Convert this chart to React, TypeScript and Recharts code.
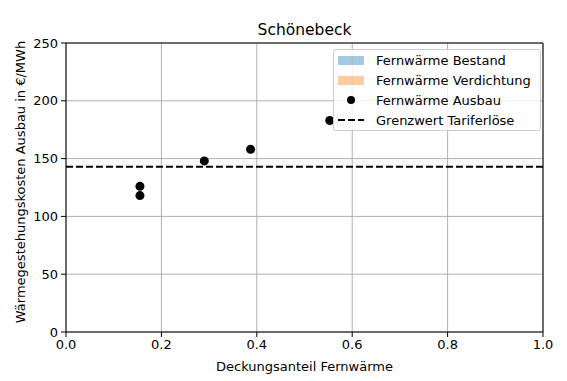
import React from "react";
import {
  ScatterChart,
  Scatter,
  XAxis,
  YAxis,
  CartesianGrid,
  ReferenceLine,
  Label,
} from "recharts";

const deckungsanteil = [0.155, 0.155, 0.29, 0.387, 0.553];
const kostenAusbau = [126, 118, 148, 158, 183];
const grenzwertTariferloese = 143;
const xTicks = [0, 0.2, 0.4, 0.6, 0.8, 1.0];
const yTicks = [0, 50, 100, 150, 200, 250];
const legendLabels = [
  "Fernwärme Bestand",
  "Fernwärme Verdichtung",
  "Fernwärme Ausbau",
  "Grenzwert Tariferlöse",
];

const FONT = "'DejaVu Sans', sans-serif";

const points = deckungsanteil.map((x, i) => ({ x, y: kostenAusbau[i] }));

function LegendBox() {
  const row = { display: "flex", alignItems: "center", height: 20 } as const;
  const handle = { width: 26, marginRight: 12, display: "flex", justifyContent: "center" } as const;
  return (
    <div
      style={{
        position: "absolute",
        left: 333,
        top: 49,
        width: 202,
        height: 80,
        background: "rgba(255,255,255,0.8)",
        border: "1px solid #cccccc",
        borderRadius: 3,
        fontFamily: FONT,
        fontSize: 13,
        color: "#000",
        padding: "0 0 0 4px",
        boxSizing: "content-box",
      }}
    >
      <div style={row}>
        <div style={handle}>
          <div style={{ width: 26, height: 9, background: "rgba(31,119,180,0.4)" }} />
        </div>
        {legendLabels[0]}
      </div>
      <div style={row}>
        <div style={handle}>
          <div style={{ width: 26, height: 9, background: "rgba(255,127,14,0.4)" }} />
        </div>
        {legendLabels[1]}
      </div>
      <div style={row}>
        <div style={handle}>
          <div style={{ width: 8, height: 8, borderRadius: 4, background: "#000" }} />
        </div>
        {legendLabels[2]}
      </div>
      <div style={row}>
        <div style={handle}>
          <svg width={26} height={4}>
            <line x1={0} y1={2} x2={26} y2={2} stroke="#000" strokeWidth={2} strokeDasharray="7 3" />
          </svg>
        </div>
        {legendLabels[3]}
      </div>
    </div>
  );
}

export default function App() {
  return (
    <div style={{ position: "absolute", left: 0, top: 0, width: 567, height: 381, background: "#fff" }}>
      <ScatterChart
        width={567}
        height={381}
        margin={{ top: 43, right: 24, bottom: 9, left: 6 }}
        style={{ fontFamily: FONT }}
      >
        <CartesianGrid stroke="#b0b0b0" strokeWidth={1} />
        <XAxis
          type="number"
          dataKey="x"
          domain={[0, 1]}
          ticks={xTicks}
          tickFormatter={(v: number) => v.toFixed(1)}
          height={40}
          tickSize={5}
          tickMargin={3}
          stroke="#000"
          tick={{ fill: "#000", fontSize: 13 }}
          allowDataOverflow
        >
          <Label
            value="Deckungsanteil Fernwärme"
            position="insideBottom"
            offset={1}
            style={{ fill: "#000", fontSize: 13 }}
          />
        </XAxis>
        <YAxis
          type="number"
          dataKey="y"
          domain={[0, 250]}
          ticks={yTicks}
          width={60}
          tickSize={5}
          tickMargin={3}
          stroke="#000"
          tick={{ fill: "#000", fontSize: 13 }}
          allowDataOverflow
        >
          <Label
            content={() => (
              <text
                x={25}
                y={182}
                transform="rotate(-90 25 182)"
                textAnchor="middle"
                fill="#000"
                fontSize={13}
                fontFamily={FONT}
              >
                Wärmegestehungskosten Ausbau in €/MWh
              </text>
            )}
          />
        </YAxis>
        <ReferenceLine y={250} stroke="#000" strokeWidth={1} />
        <ReferenceLine x={1} stroke="#000" strokeWidth={1} />
        <ReferenceLine
          y={grenzwertTariferloese}
          stroke="#000"
          strokeWidth={2}
          strokeDasharray="7 3"
        />
        <Scatter data={points} fill="#000" isAnimationActive={false} />
      </ScatterChart>
      <div
        style={{
          position: "absolute",
          left: 0,
          width: 609,
          top: 21,
          textAlign: "center",
          fontFamily: FONT,
          fontSize: 15.5,
          color: "#000",
          lineHeight: "18px",
        }}
      >
        Schönebeck
      </div>
      <LegendBox />
    </div>
  );
}
